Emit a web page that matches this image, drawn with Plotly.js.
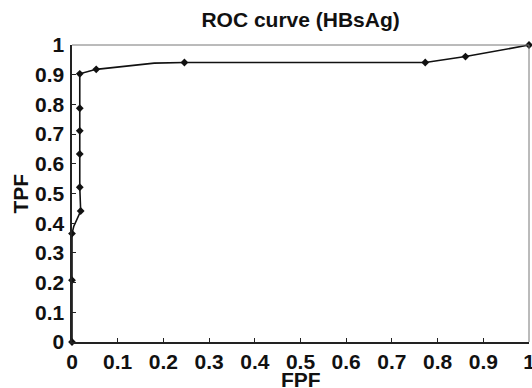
<!DOCTYPE html>
<html>
<head>
<meta charset="utf-8">
<script src="https://cdn.plot.ly/plotly-3.0.1.min.js"></script>
<style>html,body{margin:0;padding:0;background:#fff;}#chart{width:532px;height:388px;}</style>
</head>
<body>
<div id="chart"></div>
<script>
// ROC curve points (FPF, TPF)
var fpf = [0, 0, 0, 0.004, 0.019, 0.017, 0.017, 0.017, 0.017, 0.017, 0.053, 0.18, 0.246, 0.773, 0.861, 1];
var tpf = [0, 0.208, 0.365, 0.39, 0.441, 0.521, 0.633, 0.711, 0.787, 0.903, 0.918, 0.939, 0.941, 0.941, 0.961, 1];
// points that carry a marker
var markFpf = [0, 0, 0, 0.019, 0.017, 0.017, 0.017, 0.017, 0.017, 0.053, 0.246, 0.773, 0.861, 1];
var markTpf = [0, 0.208, 0.365, 0.441, 0.521, 0.633, 0.711, 0.787, 0.903, 0.918, 0.941, 0.941, 0.961, 1];
var tickVals = [0, 0.1, 0.2, 0.3, 0.4, 0.5, 0.6, 0.7, 0.8, 0.9, 1];
var tickText = ['0', '0.1', '0.2', '0.3', '0.4', '0.5', '0.6', '0.7', '0.8', '0.9', '1'];

var F = 'Liberation Sans, Arial, sans-serif';
var boldTicks = tickText.map(function (t) { return '<b>' + t + '</b>'; });
var traces = [
  {x: fpf, y: tpf, mode: 'lines', line: {color: '#111', width: 1.6}, hoverinfo: 'none', cliponaxis: false},
  {x: markFpf, y: markTpf, mode: 'markers', marker: {color: '#111', size: 6, symbol: 'diamond'}, hoverinfo: 'none', cliponaxis: false}
];
var axisCommon = {
  range: [0, 1], tickvals: tickVals, ticktext: boldTicks,
  ticks: 'inside', ticklen: 4, tickwidth: 1, tickcolor: '#222',
  showline: true, linecolor: '#222', linewidth: 1.6,
  showgrid: false, zeroline: false, ticklabeloverflow: 'allow',
  tickfont: {family: F, size: 21, color: '#111'}
};
var layout = {
  width: 532, height: 388,
  margin: {l: 72, r: 3, t: 45, b: 46},
  paper_bgcolor: '#fff', plot_bgcolor: '#fff',
  showlegend: false,
  title: {text: '<b>ROC curve (HBsAg)</b>', font: {family: F, size: 21, color: '#111'}, x: 0.565, xanchor: 'center', y: 0.95, yanchor: 'middle'},
  xaxis: Object.assign({}, axisCommon, {ticklabelstandoff: 0}),
  yaxis: Object.assign({}, axisCommon, {ticklabelstandoff: 2}),
  annotations: [
    {text: '<b>FPF</b>', xref: 'paper', yref: 'paper', x: 0.5, y: 0, yshift: -37, xanchor: 'center', yanchor: 'middle', showarrow: false, font: {family: F, size: 21, color: '#111'}},
    {text: '<b>TPF</b>', xref: 'paper', yref: 'paper', x: 0, xshift: -52, y: 0.5, xanchor: 'center', yanchor: 'middle', textangle: -90, showarrow: false, font: {family: F, size: 21, color: '#111'}}
  ],
  shapes: [
    {type: 'line', xref: 'paper', yref: 'paper', x0: 0, x1: 1, y0: 1, y1: 1, line: {color: '#777', width: 1}},
    {type: 'line', xref: 'paper', yref: 'paper', x0: 1, x1: 1, y0: 0, y1: 1, line: {color: '#777', width: 1}}
  ]
};
Plotly.newPlot('chart', traces, layout, {displayModeBar: false, staticPlot: true});
</script>
</body>
</html>
